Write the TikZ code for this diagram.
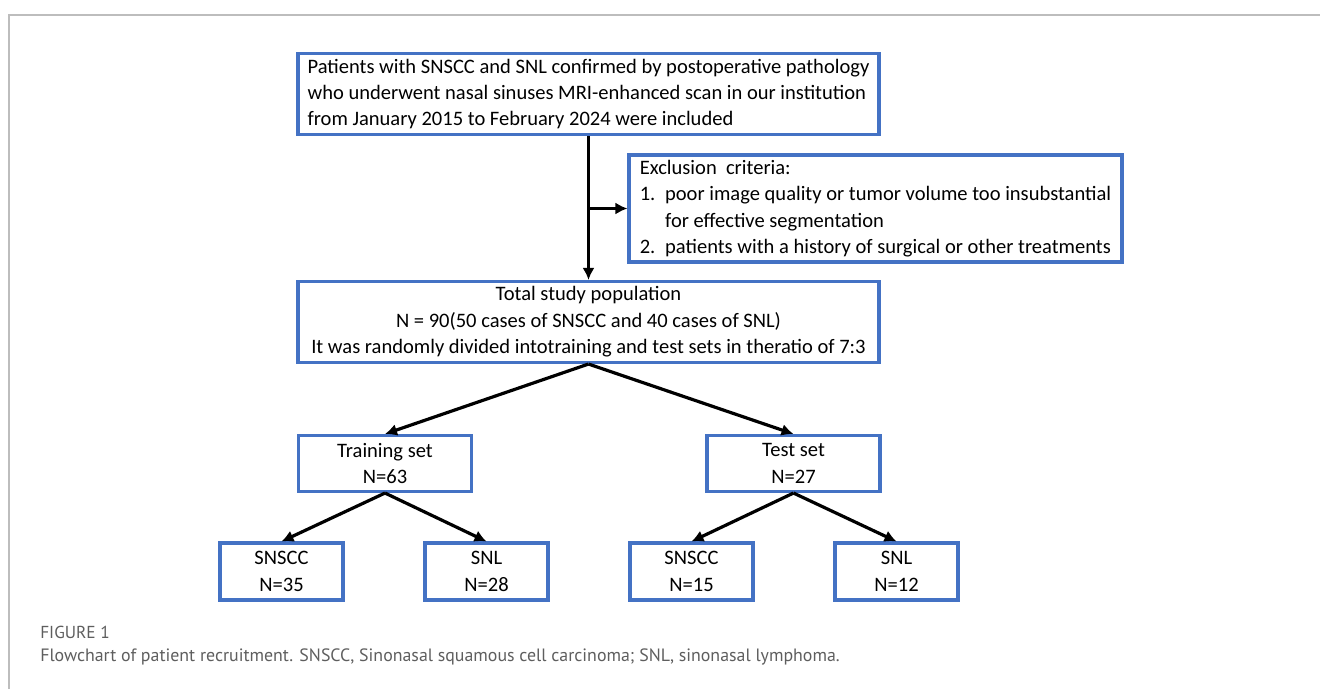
\documentclass[tikz,border=0pt]{standalone}
\usepackage{fontspec}
\setmainfont{Carlito}
\newfontfamily\capfont{PT Sans}
\usetikzlibrary{arrows.meta}
\definecolor{boxblue}{HTML}{4472C4}
\definecolor{framegray}{HTML}{BDBDBD}
\definecolor{capgray}{HTML}{5E5E5E}
\newcommand{\itemnum}[1]{\makebox[19pt][l]{#1}}

\begin{document}
\begin{tikzpicture}[x=0.75pt, y=-0.75pt, >={Latex[length=9pt, width=9pt]},
  box/.style={draw=boxblue, line width=2.3pt, inner sep=0pt, align=center,
    font=\fontsize{15.4}{19.8}\selectfont},
  link/.style={->, line width=2.4pt}]
  \useasboundingbox (0,0) rectangle (1320,689);
  \draw[framegray, line width=1.1pt] (9,689) -- (9,15) -- (1320,15);

  \node[box, minimum width=435.75pt, minimum height=60.75pt, align=left] (patients) at (588.5,94)
    {Patients with SNSCC and SNL confirmed by postoperative pathology\\
     who underwent nasal sinuses MRI-enhanced scan in our institution\\
     from January 2015 to February 2024 were included};
  \node[box, minimum width=369.75pt, minimum height=80.25pt, align=left] (exclusion) at (875.5,208.5)
    {Exclusion~ criteria:\\
     \itemnum{1.}poor image quality or tumor volume too insubstantial\\
     \itemnum{}for effective segmentation\\
     \itemnum{2.}patients with a history of surgical or other treatments};
  \node[box, minimum width=435.75pt, minimum height=60.75pt] (total) at (588.5,322)
    {Total study population\\
     N = 90(50 cases of SNSCC and 40 cases of SNL)\\
     It was randomly divided intotraining and test sets in theratio of 7:3};

  \node[box, minimum width=129.75pt, minimum height=42pt] (training) at (385,463.5) {Training set\\N=63};
  \node[box, minimum width=129.75pt, minimum height=42pt] (test) at (793.5,463.5) {Test set\\N=27};

  \node[box, minimum width=92.25pt, minimum height=42.75pt] (trsnscc) at (281.5,571.5) {SNSCC\\N=35};
  \node[box, minimum width=92.25pt, minimum height=42.75pt] (trsnl) at (486.5,571.5) {SNL\\N=28};
  \node[box, minimum width=92.25pt, minimum height=42.75pt] (tesnscc) at (691.5,571.5) {SNSCC\\N=15};
  \node[box, minimum width=92.25pt, minimum height=42.75pt] (tesnl) at (896.5,571.5) {SNL\\N=12};

  \draw[link] (patients.south) -- (total.north);
  \draw[link] (patients.south |- exclusion.west) -- (exclusion.west);
  \draw[link] (total.south) -- (training.north);
  \draw[link] (total.south) -- (test.north);
  \draw[link] (training.south) -- (trsnscc.north);
  \draw[link] (training.south) -- (trsnl.north);
  \draw[link] (test.south) -- (tesnscc.north);
  \draw[link] (test.south) -- (tesnl.north);

  \node[anchor=west, inner sep=0pt, text=capgray, font=\capfont\fontsize{13}{15}\selectfont] (figlabel) at (40,632) {FIGURE 1};
  \node[anchor=west, inner sep=0pt, text=capgray, font=\capfont\fontsize{13.4}{15}\selectfont] (caption) at (40,657)
    {Flowchart of patient recruitment. SNSCC, Sinonasal squamous cell carcinoma; SNL, sinonasal lymphoma.};
\end{tikzpicture}
\end{document}
